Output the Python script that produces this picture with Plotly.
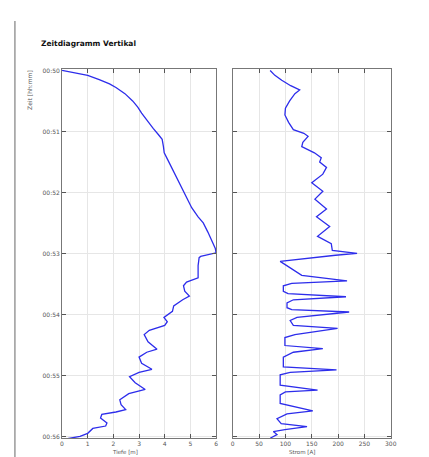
import plotly.graph_objects as go

# Depth trace (time in minutes after 00:50, depth in m)
time_depth = [0.00, 0.04, 0.08, 0.15, 0.22, 0.28, 0.38, 0.50, 0.60, 0.70, 0.76, 0.85, 0.95,
              1.05, 1.13, 1.25, 1.35, 1.45, 1.55, 1.67, 1.80, 1.95, 2.10, 2.25, 2.40, 2.50,
              2.65, 2.80, 2.92, 2.99, 3.05, 3.07, 3.20, 3.40, 3.47, 3.53, 3.62, 3.70, 3.76,
              3.86, 3.95, 4.05, 4.12, 4.18, 4.26, 4.33, 4.45, 4.57, 4.62, 4.70, 4.80, 4.90,
              4.95, 5.02, 5.12, 5.23, 5.30, 5.40, 5.48, 5.56, 5.60, 5.64, 5.70, 5.78, 5.83,
              5.87, 5.95, 6.00, 6.03, 6.05]
depth = [0.00, 0.45, 1.00, 1.45, 1.85, 2.10, 2.45, 2.75, 2.95, 3.10, 3.20, 3.35, 3.55,
         3.75, 3.90, 3.95, 3.98, 4.10, 4.22, 4.35, 4.50, 4.68, 4.85, 5.05, 5.30, 5.50,
         5.68, 5.85, 5.97, 6.00, 5.40, 5.34, 5.30, 5.30, 4.85, 4.73, 4.78, 4.96, 4.70,
         4.35, 4.30, 3.97, 4.10, 4.00, 3.40, 3.20, 3.35, 3.70, 3.30, 3.00, 3.10, 3.50,
         3.00, 2.63, 2.85, 3.24, 2.60, 2.25, 2.30, 2.48, 2.10, 1.55, 1.50, 1.75, 1.70,
         1.20, 1.00, 0.70, 0.20, 0.05]

# Current trace (time in minutes after 00:50, current in A)
time_current = [0.00, 0.08, 0.16, 0.25, 0.32, 0.38, 0.50, 0.62, 0.73, 0.85, 0.97, 1.03,
                1.08, 1.18, 1.25, 1.35, 1.43, 1.50, 1.59, 1.70, 1.84, 1.98, 2.11, 2.27,
                2.40, 2.56, 2.72, 2.84, 2.95, 3.00, 3.03, 3.13, 3.36, 3.45, 3.49, 3.53,
                3.62, 3.66, 3.71, 3.76, 3.81, 3.89, 3.92, 3.96, 4.05, 4.10, 4.18, 4.23,
                4.33, 4.38, 4.51, 4.56, 4.62, 4.70, 4.86, 4.91, 4.95, 4.99, 5.16, 5.24,
                5.27, 5.32, 5.46, 5.58, 5.63, 5.71, 5.79, 5.84, 5.89, 5.92, 5.97, 6.03]
current = [71, 80, 93, 110, 127, 118, 108, 100, 99, 106, 115, 135,
           143, 133, 131, 155, 168, 165, 178, 171, 150, 171, 156, 178,
           159, 184, 161, 187, 189, 236, 195, 90, 131, 217, 112, 96,
           96, 105, 215, 115, 103, 103, 112, 221, 122, 109, 115, 199,
           118, 99, 99, 171, 115, 96, 96, 197, 109, 90, 90, 161,
           100, 90, 90, 152, 103, 84, 92, 141, 99, 77, 84, 71]

y_tickvals = [0, 1, 2, 3, 4, 5, 6]
y_ticktext = ["00:50", "00:51", "00:52", "00:53", "00:54", "00:55", "00:56"]
depth_ticks = [0, 1, 2, 3, 4, 5, 6]
current_ticks = [0, 50, 100, 150, 200, 250, 300]

W, H = 429, 457
line_color = "rgb(45,45,235)"

fig = go.Figure()
fig.add_trace(go.Scatter(x=depth, y=time_depth, mode="lines",
                         line=dict(color=line_color, width=1.3), xaxis="x", yaxis="y",
                         showlegend=False))
fig.add_trace(go.Scatter(x=current, y=time_current, mode="lines",
                         line=dict(color=line_color, width=1.3), xaxis="x2", yaxis="y2",
                         showlegend=False))

tickfont = dict(family="DejaVu Sans", size=6, color="#555")
common = dict(showline=True, linecolor="#777", linewidth=1, mirror="ticks",
              ticks="inside", ticklen=4, tickcolor="#555", tickwidth=1,
              showgrid=True, gridcolor="#e6e6e6", gridwidth=1, zeroline=False,
              tickfont=tickfont)

yr = [6.03, -0.016]
ydom = [1 - 431 / H, 1 - 59 / H]

fig.update_layout(
    width=W, height=H,
    margin=dict(l=0, r=0, t=0, b=0),
    paper_bgcolor="white", plot_bgcolor="white",
    xaxis=dict(domain=[53 / W, 210 / W], range=[0, 6], tickvals=depth_ticks,
               anchor="y", **common),
    yaxis=dict(domain=ydom, range=yr, tickvals=y_tickvals, ticktext=y_ticktext,
               anchor="x", **common),
    xaxis2=dict(domain=[227 / W, 388 / W], range=[0, 300], tickvals=current_ticks,
                anchor="y2", **common),
    yaxis2=dict(domain=ydom, range=yr, tickvals=y_tickvals, showticklabels=False,
                anchor="x2", **common),
)

fig.add_annotation(text="<b>Zeitdiagramm Vertikal</b>", x=30 / W, y=1 - 33 / H,
                   xref="paper", yref="paper", xanchor="left", yanchor="middle",
                   showarrow=False, font=dict(family="DejaVu Sans", size=7.5, color="#111"))
fig.add_annotation(text="Zeit [hh:mm]", x=20 / W, y=1 - 80 / H, textangle=-90,
                   xref="paper", yref="paper", xanchor="center", yanchor="middle",
                   showarrow=False, font=dict(family="DejaVu Sans", size=6, color="#555"))
fig.add_annotation(text="Tiefe [m]", x=117 / W, y=1 - 450 / H,
                   xref="paper", yref="paper", xanchor="center", yanchor="bottom",
                   showarrow=False, font=dict(family="DejaVu Sans", size=5.5, color="#555"))
fig.add_annotation(text="Strom [A]", x=298 / W, y=1 - 450 / H,
                   xref="paper", yref="paper", xanchor="center", yanchor="bottom",
                   showarrow=False, font=dict(family="DejaVu Sans", size=5.5, color="#555"))

# Frame line on the left edge of the figure
fig.add_shape(type="line", xref="paper", yref="paper", x0=5 / W, x1=5 / W,
              y0=0, y1=1 - 10 / H, line=dict(color="#999", width=1.5))

fig.write_html("out.html")
